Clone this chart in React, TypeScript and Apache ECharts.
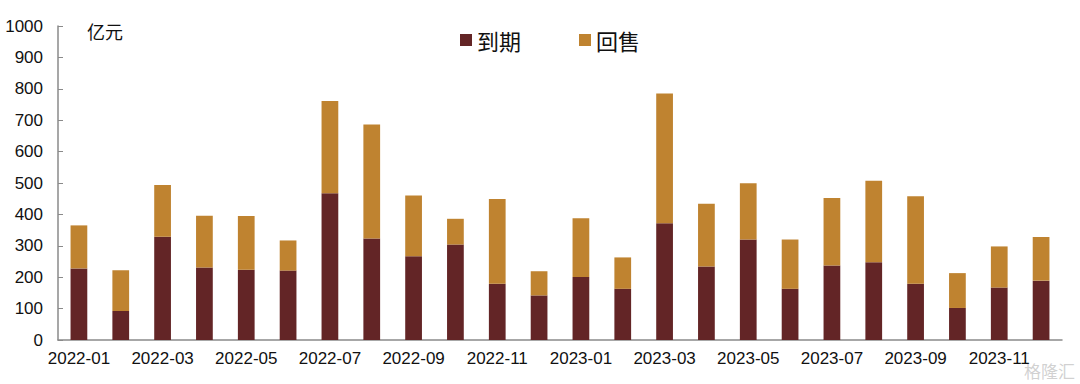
import React, { useEffect, useRef } from "react";
import * as echarts from "echarts";

const categories = [
  "2022-01", "2022-02", "2022-03", "2022-04", "2022-05", "2022-06",
  "2022-07", "2022-08", "2022-09", "2022-10", "2022-11", "2022-12",
  "2023-01", "2023-02", "2023-03", "2023-04", "2023-05", "2023-06",
  "2023-07", "2023-08", "2023-09", "2023-10", "2023-11", "2023-12",
];
const maturity = [228, 92, 329, 231, 224, 221, 467, 323, 267, 304, 179, 142,
  201, 163, 372, 234, 320, 163, 237, 248, 179, 102, 167, 189];
const putback = [137, 130, 165, 165, 171, 96, 294, 363, 193, 82, 270, 77,
  187, 100, 413, 200, 179, 157, 215, 259, 279, 111, 131, 139];
const yTicks = { min: 0, max: 1000, interval: 100 };

export default function App() {
  const ref = useRef<HTMLDivElement>(null);
  useEffect(() => {
    if (!ref.current) return;
    const chart = echarts.init(ref.current, null, { renderer: "svg" });
    const numFont = "'Liberation Sans', Arial, sans-serif";
    const cjkFont = "'Noto Sans CJK SC', sans-serif";
    chart.setOption({
      animation: false,
      backgroundColor: "#ffffff",
      grid: { left: 58, right: 18, top: 26, bottom: 44, containLabel: false },
      legend: {
        left: 455,
        top: 24,
        itemWidth: 12,
        itemHeight: 12,
        itemGap: 58,
        icon: "rect",
        textStyle: { fontSize: 22, fontFamily: cjkFont, color: "#111", fontWeight: "normal" },
        data: ["到期", "回售"],
      },
      graphic: [
        {
          type: "text",
          left: 87,
          top: 22,
          style: { text: "亿元", fontSize: 18, fontFamily: cjkFont, fill: "#111" },
        },
        {
          type: "text",
          right: 5,
          bottom: 5,
          style: { text: "格隆汇", fontSize: 17, fontFamily: cjkFont, fill: "rgba(170,170,170,0.55)" },
        },
      ],
      xAxis: {
        type: "category",
        data: categories,
        boundaryGap: true,
        axisLine: { lineStyle: { color: "#8a8a8a", width: 1.5 } },
        axisTick: { interval: 1, inside: true, length: 5, lineStyle: { color: "#8a8a8a" } },
        axisLabel: { interval: 1, fontSize: 17, color: "#111", fontFamily: numFont, margin: 10 },
      },
      yAxis: {
        type: "value",
        min: yTicks.min,
        max: yTicks.max,
        interval: yTicks.interval,
        splitLine: { show: false },
        axisLine: { show: true, lineStyle: { color: "#8a8a8a", width: 1.5 } },
        axisTick: { show: true, inside: true, length: 5, lineStyle: { color: "#8a8a8a" } },
        axisLabel: {
          fontSize: 17,
          color: "#111",
          fontFamily: numFont,
          margin: 15,
          formatter: (v: number) => String(v),
        },
      },
      series: [
        {
          name: "到期",
          type: "bar",
          stack: "total",
          barWidth: "40%",
          data: maturity,
          itemStyle: { color: "#632526" },
        },
        {
          name: "回售",
          type: "bar",
          stack: "total",
          barWidth: "40%",
          data: putback,
          itemStyle: { color: "#BF8330" },
        },
      ],
    });
    return () => chart.dispose();
  }, []);
  return (
    <div
      ref={ref}
      style={{ position: "fixed", left: 0, top: 0, width: 1080, height: 384, background: "#fff" }}
    />
  );
}
